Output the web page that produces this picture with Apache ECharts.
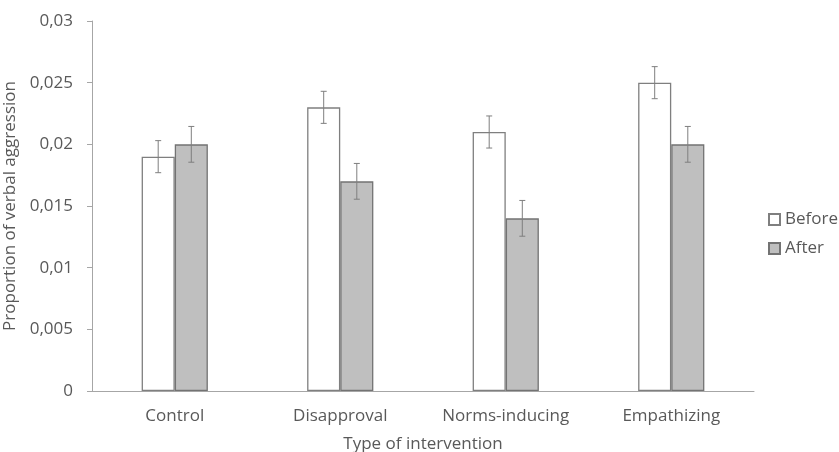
<!DOCTYPE html>
<html>
<head>
<meta charset="utf-8">
<script src="https://cdn.jsdelivr.net/npm/echarts@6/dist/echarts.min.js"></script>
<style>html,body{margin:0;padding:0;background:#fff;}#c{width:839px;height:452px;}</style>
</head>
<body>
<div id="c"></div>
<script>
const categories = ['Control', 'Disapproval', 'Norms-inducing', 'Empathizing'];
const beforeValues = [0.019, 0.023, 0.021, 0.025];
const afterValues = [0.020, 0.017, 0.014, 0.020];
const beforeErrors = [0.0013, 0.0013, 0.0013, 0.0013];
const afterErrors = [0.00145, 0.00145, 0.00145, 0.00145];
const yTicks = [0, 0.005, 0.01, 0.015, 0.02, 0.025, 0.03];

const FONT = 'Open Sans';
const TXT = '#595959';
const FS = 17;

function errData(vals, errs) {
  return vals.map((v, i) => [i, v - errs[i], v + errs[i]]);
}
function errRender(side) {
  return function (params, api) {
    const i = api.value(0);
    const lo = api.coord([i, api.value(1)]);
    const hi = api.coord([i, api.value(2)]);
    const band = api.size([1, 0])[0];
    const x = lo[0] + side * band * 0.1;
    const cap = 3;
    const st = { stroke: '#7f7f7f', lineWidth: 1 };
    return {
      type: 'group',
      children: [
        { type: 'line', shape: { x1: x, y1: hi[1], x2: x, y2: lo[1] }, style: st },
        { type: 'line', shape: { x1: x - cap, y1: hi[1], x2: x + cap, y2: hi[1] }, style: st },
        { type: 'line', shape: { x1: x - cap, y1: lo[1], x2: x + cap, y2: lo[1] }, style: st }
      ]
    };
  };
}

const chart = echarts.init(document.getElementById('c'), null, { renderer: 'canvas' });
chart.setOption({
  animation: false,
  backgroundColor: '#ffffff',
  textStyle: { fontFamily: FONT },
  grid: { left: 92, right: 85, top: 21, bottom: 61, containLabel: false, outerBoundsMode: 'none' },
  legend: {
    data: ['Before', 'After'],
    orient: 'vertical',
    left: 763,
    top: 206,
    itemWidth: 11,
    itemHeight: 11,
    itemGap: 12,
    icon: 'rect',
    textStyle: { fontFamily: FONT, fontSize: FS, color: TXT }
  },
  xAxis: {
    type: 'category',
    data: categories,
    name: 'Type of intervention',
    nameLocation: 'middle',
    nameGap: 45,
    nameTextStyle: { fontFamily: FONT, fontSize: FS, color: TXT },
    axisLine: { lineStyle: { color: '#a6a6a6', width: 1 } },
    axisTick: { show: false },
    axisLabel: { fontFamily: FONT, fontSize: FS, color: TXT, margin: 17 }
  },
  yAxis: {
    type: 'value',
    min: 0,
    max: 0.03,
    interval: 0.005,
    name: 'Proportion of verbal aggression',
    nameLocation: 'middle',
    nameGap: 66,
    nameTextStyle: { fontFamily: FONT, fontSize: FS, color: TXT },
    axisLine: { show: true, lineStyle: { color: '#a6a6a6', width: 1 } },
    axisTick: { show: true, inside: false, length: 5, lineStyle: { color: '#a6a6a6' } },
    splitLine: { show: false },
    axisLabel: {
      fontFamily: FONT, fontSize: FS, color: TXT, margin: 19,
      formatter: function (v) {
        const t = yTicks.find(k => Math.abs(k - v) < 1e-9);
        return String(t !== undefined ? t : v).replace('.', ',');
      }
    }
  },
  series: [
    {
      name: 'Before', type: 'bar', data: beforeValues,
      barWidth: '20%', barGap: '0%',
      itemStyle: { color: '#ffffff', borderColor: '#7f7f7f', borderWidth: 1.3 }
    },
    {
      name: 'After', type: 'bar', data: afterValues,
      barWidth: '20%', barGap: '0%',
      itemStyle: { color: '#bfbfbf', borderColor: '#737373', borderWidth: 1.3 }
    },
    {
      type: 'custom', name: 'errBefore', data: errData(beforeValues, beforeErrors),
      renderItem: errRender(-1), encode: { x: 0, y: [1, 2] }, z: 10, silent: true
    },
    {
      type: 'custom', name: 'errAfter', data: errData(afterValues, afterErrors),
      renderItem: errRender(1), encode: { x: 0, y: [1, 2] }, z: 10, silent: true
    }
  ]
});
</script>
</body>
</html>
